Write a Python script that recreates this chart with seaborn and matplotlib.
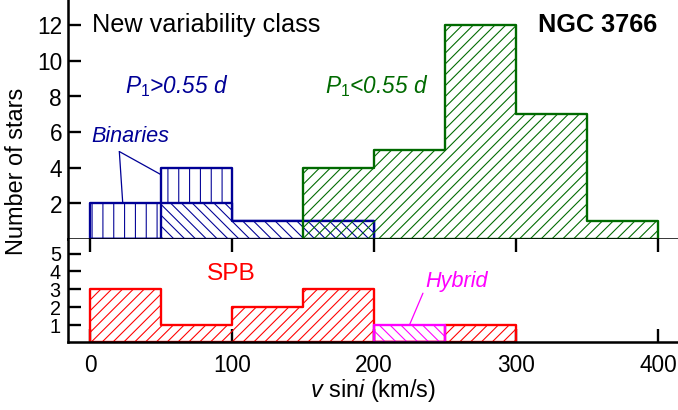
import matplotlib
matplotlib.use('Agg')
import matplotlib.pyplot as plt
import seaborn as sns

# v sin i bin edges (km/s) and number of stars per bin
blue_edges = [0, 50, 100, 150, 200]
binaries = [2, 2, 0, 0]            # P1 > 0.55 d, binaries (sit on top)
long_single = [0, 2, 1, 1]         # P1 > 0.55 d, the rest
green_edges = [150, 200, 250, 300, 350, 400]
short_period = [4, 5, 12, 7, 1]    # P1 < 0.55 d
spb_edges = [0, 50, 100, 150, 200, 250, 300]
spb = [3, 1, 2, 3, 0, 1]
hybrid_edges = [200, 250]
hybrid = [1]

x_ticks = [0, 100, 200, 300, 400]
top_yticks = [2, 4, 6, 8, 10, 12]
bottom_yticks = [1, 2, 3, 4, 5]

BLUE = '#000096'
GREEN = '#006a00'
RED = '#ff0000'
MAGENTA = '#ff00ff'

DPI = 130
W, H = 678, 410

sns.set_style('ticks')
plt.rcParams['font.family'] = ['Liberation Sans', 'DejaVu Sans']
plt.rcParams['mathtext.fontset'] = 'custom'
plt.rcParams['mathtext.rm'] = 'Liberation Sans'
plt.rcParams['mathtext.it'] = 'Liberation Sans:italic'
plt.rcParams['mathtext.bf'] = 'Liberation Sans:bold'
plt.rcParams['hatch.linewidth'] = 0.6
plt.rcParams['axes.linewidth'] = 1.4
plt.rcParams['axes.edgecolor'] = 'black'
plt.rcParams['text.color'] = 'black'
plt.rcParams['axes.labelcolor'] = 'black'
plt.rcParams['xtick.color'] = 'black'
plt.rcParams['ytick.color'] = 'black'

FWD = '////'          # diagonal hatch, ~11 px apart at this dpi
BACK = '\\\\\\\\'
VERT = '||'


def step_hist(ax, edges, counts, color, hatch, face='none'):
    centers = [(a + b) / 2 for a, b in zip(edges[:-1], edges[1:])]
    sns.histplot(x=centers, weights=counts, bins=edges, element='step',
                 fill=True, color=color, ax=ax)
    poly = ax.collections[-1]
    poly.set_alpha(None)
    poly.set_facecolor(face)
    poly.set_edgecolor(color)
    poly.set_linewidth(1.3)
    poly.set_hatch(hatch)


fig = plt.figure(figsize=(678.4 / DPI, 410.4 / DPI), dpi=DPI)
left = 68 / W
ax1 = fig.add_axes([left, (H - 239) / H, 1 - left, 239 / H])
ax2 = fig.add_axes([left, (H - 342.5) / H, 1 - left, (342.5 - 239) / H])

# top panel: total long-period outline with binaries hatch, rest masked on top
total_long = [a + b for a, b in zip(binaries, long_single)]
step_hist(ax1, blue_edges, total_long, BLUE, VERT)
step_hist(ax1, blue_edges, long_single, BLUE, BACK, face='white')
step_hist(ax1, green_edges, short_period, GREEN, FWD)

# bottom panel
step_hist(ax2, spb_edges, spb, RED, FWD)
step_hist(ax2, hybrid_edges, hybrid, MAGENTA, BACK)

# labels inside panels
ax1.text(1.2, 11.65, 'New variability class', fontsize=14, va='baseline')
ax1.text(399, 11.65, 'NGC 3766', fontsize=14, fontweight='bold',
         ha='right', va='baseline')
ax1.text(24.6, 8.2, r'$P_1$>0.55 d', color=BLUE, style='italic',
         fontsize=12.5, va='baseline')
ax1.text(165.5, 8.2, r'$P_1$<0.55 d', color=GREEN, style='italic',
         fontsize=12.5, va='baseline')
ax1.text(1.2, 5.45, 'Binaries', color=BLUE, style='italic',
         fontsize=12, va='baseline')
ax1.plot([20.6, 23.0], [4.9, 2.0], color=BLUE, lw=0.7)
ax1.plot([20.6, 50.0], [4.9, 3.6], color=BLUE, lw=0.7)

ax2.text(82, 3.53, 'SPB', color=RED, fontsize=13.5, va='baseline')
ax2.text(236, 3.14, 'Hybrid', color=MAGENTA, style='italic',
         fontsize=12, va='baseline')
ax2.plot([234.3, 224.9], [2.77, 1.0], color=MAGENTA, lw=0.7)

# axes styling
for ax in (ax1, ax2):
    ax.set_xlim(-15.5, 414.1)
    ax.set_xlabel('')
    ax.set_ylabel('')
    ax.spines['top'].set_visible(False)
    ax.spines['right'].set_visible(False)
    ax.set_xticks(x_ticks)

ax1.set_ylim(0, 13.43)
ax1.set_yticks(top_yticks)
ax1.tick_params(axis='x', bottom=False, labelbottom=False)
ax1.tick_params(axis='y', direction='in', length=7, width=1.3,
                labelsize=12.5, pad=3.3)

ax2.set_ylim(0, 5.83)
ax2.set_yticks(bottom_yticks)
ax2.tick_params(axis='x', direction='in', top=True, bottom=True, length=7,
                width=1.3, labelsize=12.5, pad=6)
ax2.tick_params(axis='y', direction='in', length=7, width=1.3,
                labelsize=11, pad=4)
ax2.set_xlabel(r'$v$ sin$i$ (km/s)', fontsize=13, labelpad=0)

fig.text(16 / W, 1 - 171 / H, 'Number of stars', rotation=90,
         ha='center', va='center', fontsize=13)

fig.savefig('out.png', dpi=DPI)
